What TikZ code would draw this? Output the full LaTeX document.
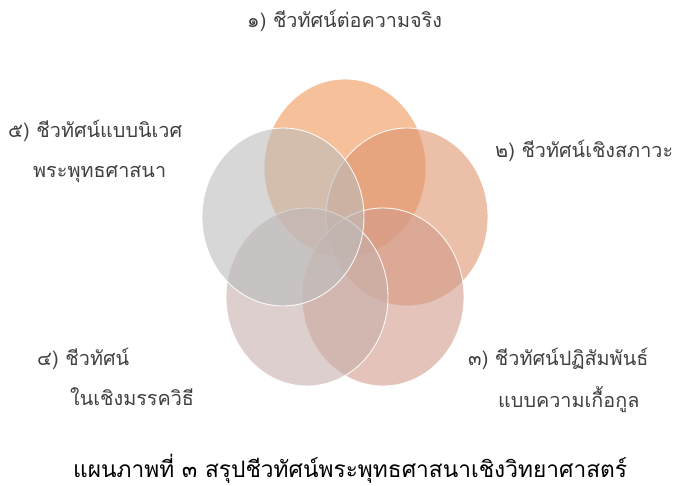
\documentclass[tikz,border=0pt]{standalone}
\usepackage{fontspec}
\newfontfamily\thaifont[Script=Thai]{Loma}
\usetikzlibrary{shapes.geometric}
\definecolor{cA}{RGB}{238,150,87}
\definecolor{cB}{RGB}{222,148,110}
\definecolor{cC}{RGB}{210,156,140}
\definecolor{cD}{RGB}{198,175,172}
\definecolor{cE}{RGB}{188,188,188}
\definecolor{lab}{RGB}{64,64,64}
\begin{document}
\begin{tikzpicture}[x=1pt,y=-1pt,
  petal/.style={ellipse,draw=white,line width=0.9pt,fill opacity=0.6,draw opacity=0.9,minimum width=162pt,minimum height=178pt,inner sep=0},
  lbl/.style={inner sep=0,anchor=base west,text=lab,font=\thaifont\fontsize{19.8}{22}\selectfont},
  captext/.style={inner sep=0,anchor=base west,text=black,font=\thaifont\fontsize{22.7}{26}\selectfont}]
\useasboundingbox (0,0) rectangle (674,486);
\node[petal,fill=cA] (e1) at (345,168) {};
\node[petal,fill=cB] (e2) at (407,217) {};
\node[petal,fill=cC] (e3) at (383,297) {};
\node[petal,fill=cD] (e4) at (307,297) {};
\node[petal,fill=cE] (e5) at (283,217) {};
\node[lbl] (t1) at (247,28) {๑) ชีวทัศน์ต่อความจริง};
\node[lbl] (t2) at (495,158) {๒) ชีวทัศน์เชิงสภาวะ};
\node[lbl] (t3a) at (468,365) {๓) ชีวทัศน์ปฏิสัมพันธ์};
\node[lbl] (t3b) at (498,407) {แบบความเกื้อกูล};
\node[lbl] (t4a) at (37,365) {๔) ชีวทัศน์};
\node[lbl] (t4b) at (70,405) {ในเชิงมรรควิธี};
\node[lbl] (t5a) at (8,138) {๕) ชีวทัศน์แบบนิเวศ};
\node[lbl] (t5b) at (33,178) {พระพุทธศาสนา};
\node[captext] (capt) at (73,477) {แผนภาพที่ ๓ สรุปชีวทัศน์พระพุทธศาสนาเชิงวิทยาศาสตร์};
\end{tikzpicture}
\end{document}
